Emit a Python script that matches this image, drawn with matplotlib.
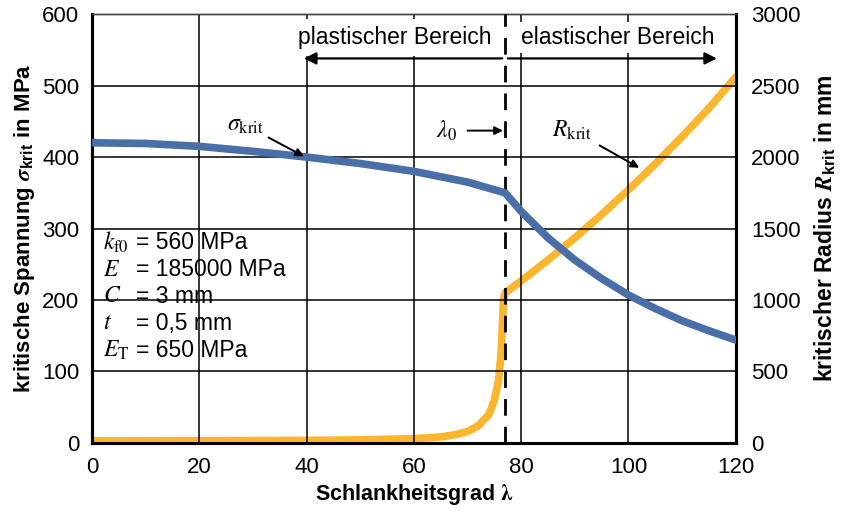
import matplotlib.pyplot as plt

plt.rcParams['font.family'] = ['Liberation Sans', 'DejaVu Sans']
plt.rcParams['mathtext.fontset'] = 'stix'

# kritische Spannung (links, MPa)
lam_s = [0, 10, 20, 30, 40, 50, 60, 70, 77, 80, 85, 90, 95, 100, 105, 110, 115, 120]
sig = [420, 419, 415, 408, 400, 391, 380, 365, 350, 324, 287, 256, 230, 207, 188, 171, 157, 144]

# kritischer Radius (rechts, mm)
lam_r = [0, 20, 40, 50, 60, 65, 68, 70, 72, 74, 75, 75.8, 76.3, 76.7, 77,
         80, 85, 90, 95, 100, 105, 110, 115, 120]
rad = [15, 16, 18, 22, 30, 42, 60, 80, 120, 200, 300, 440, 650, 1000, 1050,
       1133, 1280, 1434, 1598, 1771, 1952, 2143, 2342, 2560]

lam0 = 77
par_names = ["$k_\\mathrm{f0}$", "$E$", "$C$", "$t$", "$E_\\mathrm{T}$"]
par_values = ["= 560 MPa", "= 185000 MPa", "= 3 mm", "= 0,5 mm", "= 650 MPa"]

fig = plt.figure(figsize=(8.46, 5.13), dpi=100)
ax = fig.add_axes([0.1087, 0.1365, 0.761, 0.836])
ax2 = ax.twinx()

ax.set_xlim(0, 120)
ax.set_ylim(0, 600)
ax2.set_ylim(0, 3000)
ax.set_xticks(range(0, 121, 20))
ax.set_yticks(range(0, 601, 100))
ax2.set_yticks(range(0, 3001, 500))
ax.grid(True, color='black', lw=1.1)
ax.tick_params(axis='y', labelsize=16, length=0, pad=9)
ax.tick_params(axis='x', labelsize=16, length=0, pad=10)
ax2.tick_params(labelsize=16, length=0, pad=11)
for a in (ax, ax2):
    for s in ('left', 'bottom', 'right'):
        a.spines[s].set_linewidth(2.2)
    a.spines['top'].set_linewidth(1.0)
    a.spines['top'].set_color('#444444')

ax.axvline(lam0, color='black', lw=2, dashes=(6, 4), zorder=3)

ax.plot(lam_s, sig, color='#4a6fa8', lw=5.5, solid_capstyle='round', zorder=5)
ax2.plot(lam_r, rad, color='#fbb62e', lw=5.5, solid_capstyle='round', zorder=5)
ax.set_zorder(ax2.get_zorder() + 1)
ax.patch.set_visible(False)

ax.set_xlabel("Schlankheitsgrad $\\boldsymbol{\\lambda}$", fontsize=15.5, fontweight='bold', labelpad=3)
ax.set_ylabel("kritische Spannung $\\boldsymbol{\\sigma}_\\mathregular{krit}$ in MPa",
              fontsize=16, fontweight='bold', labelpad=4)
ax2.set_ylabel("kritischer Radius $\\boldsymbol{R}_\\mathregular{krit}$ in mm",
               fontsize=16.5, fontweight='bold', labelpad=8)

# Bereiche
ax.text(56.5, 567, "plastischer Bereich", fontsize=16.5, ha='center', va='center',
        bbox=dict(facecolor='white', edgecolor='none', pad=5), zorder=6)
ax.text(98, 567, "elastischer Bereich", fontsize=16.5, ha='center', va='center',
        bbox=dict(facecolor='white', edgecolor='none', pad=3), zorder=6)
ax.annotate("", xy=(39, 538), xytext=(lam0, 538),
            arrowprops=dict(arrowstyle='-|>', color='black', lw=1.6, mutation_scale=18), zorder=7)
ax.annotate("", xy=(117, 538), xytext=(lam0, 538),
            arrowprops=dict(arrowstyle='-|>', color='black', lw=1.6, mutation_scale=18), zorder=7)

# Beschriftungen
ax.annotate("$\\sigma_\\mathrm{krit}$", xy=(39.5, 401), xytext=(28.5, 445), fontsize=17,
            ha='center', va='center', zorder=7,
            arrowprops=dict(arrowstyle='-|>', color='black', lw=1.4, mutation_scale=12, shrinkA=2, shrinkB=0))
ax.annotate("$\\lambda_0$", xy=(76.6, 437), xytext=(66, 437), fontsize=17,
            ha='center', va='center', zorder=7,
            arrowprops=dict(arrowstyle='-|>', color='black', lw=1.4, mutation_scale=12, shrinkA=6, shrinkB=0))
ax.annotate("$R_\\mathrm{krit}$", xy=(102, 385), xytext=(89.5, 438), fontsize=17,
            ha='center', va='center', zorder=7,
            arrowprops=dict(arrowstyle='-|>', color='black', lw=1.4, mutation_scale=12, shrinkA=4, shrinkB=0))

for i, (n, v) in enumerate(zip(par_names, par_values)):
    y = 280 - i * 37.5
    ax.text(2.0, y, n, fontsize=17, ha='left', va='center', zorder=7)
    ax.text(8.3, y, v, fontsize=16.5, ha='left', va='center', zorder=7)

fig.savefig("out.png", dpi=100)
